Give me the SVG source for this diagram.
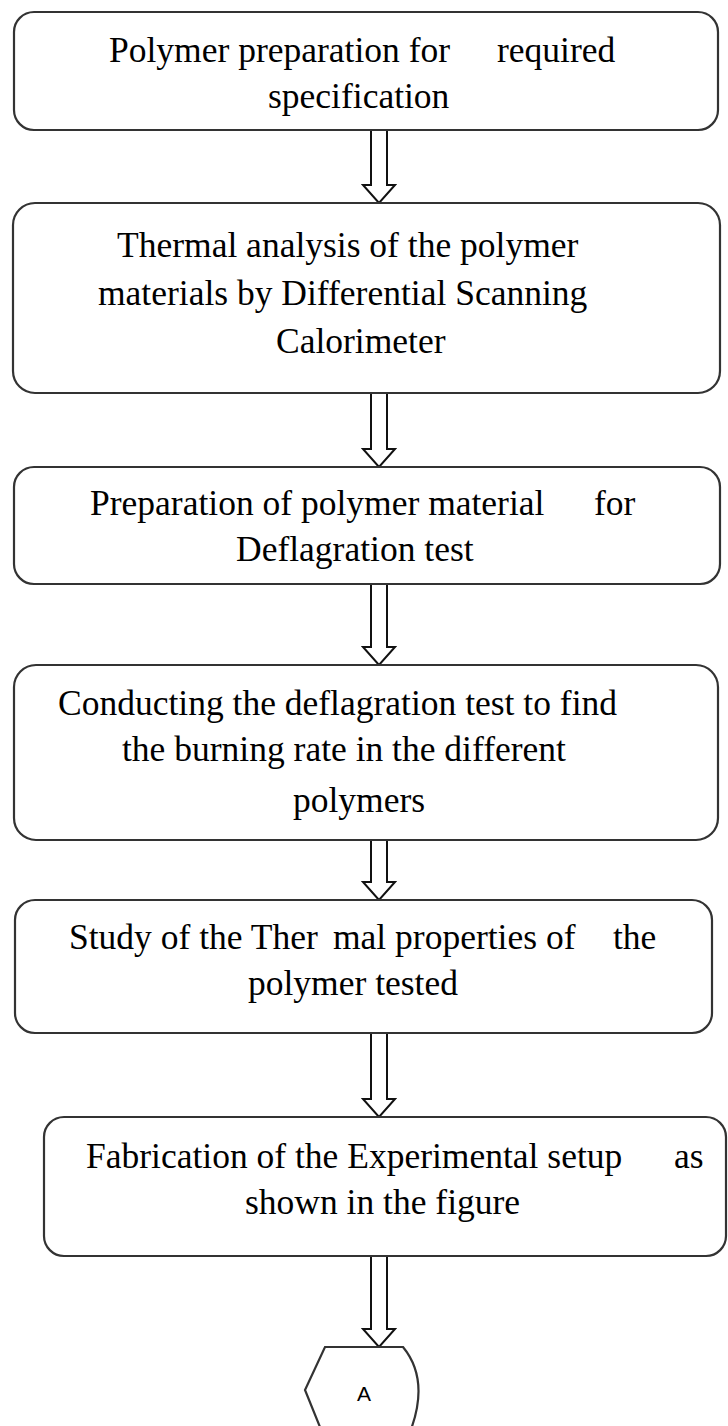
<svg xmlns="http://www.w3.org/2000/svg" width="728" height="1426" viewBox="0 0 728 1426">
<style>
.box{fill:#fff;stroke:#333;stroke-width:2.2}
.arr{fill:#fff;stroke:#111;stroke-width:2;stroke-linejoin:miter}
.t{font-family:"Liberation Serif","Times New Roman",serif;font-size:35.5px;fill:#000}
.a{font-family:"Liberation Sans",Arial,sans-serif;font-size:21px;fill:#000}
</style>
<rect width="728" height="1426" fill="#fff"/>
<g id="connectors">
<polygon class="arr" points="371,130 371,185 363,185 379,203 395,185 387,185 387,130"/>
<polygon class="arr" points="371,393 371,449 363,449 379,467 395,449 387,449 387,393"/>
<polygon class="arr" points="371,584 371,647 363,647 379,665 395,647 387,647 387,584"/>
<polygon class="arr" points="371,840 371,882 363,882 379,900 395,882 387,882 387,840"/>
<polygon class="arr" points="371,1033 371,1099 363,1099 379,1117 395,1099 387,1099 387,1033"/>
<polygon class="arr" points="371,1256 371,1329 363,1329 379,1347 395,1329 387,1329 387,1256"/>
</g>
<g id="node1">
<rect class="box" x="14" y="12" width="704" height="118" rx="20"/>
<text class="t" y="62"><tspan x="109">Polymer preparation for</tspan><tspan x="497">required</tspan></text>
<text class="t" x="268" y="108">specification</text>
</g>
<g id="node2">
<rect class="box" x="13" y="203" width="707" height="190" rx="22"/>
<text class="t" x="117" y="257">Thermal analysis of the polymer</text>
<text class="t" x="98" y="305">materials by Differential Scanning</text>
<text class="t" x="276" y="353">Calorimeter</text>
</g>
<g id="node3">
<rect class="box" x="14" y="467" width="706" height="117" rx="20"/>
<text class="t" y="515"><tspan x="90">Preparation of polymer material</tspan><tspan x="594">for</tspan></text>
<text class="t" x="236" y="561">Deflagration test</text>
</g>
<g id="node4">
<rect class="box" x="14" y="665" width="704" height="175" rx="22"/>
<text class="t" x="58" y="715">Conducting the deflagration test to find</text>
<text class="t" x="122" y="761">the burning rate in the different</text>
<text class="t" x="293" y="812">polymers</text>
</g>
<g id="node5">
<rect class="box" x="15" y="900" width="697" height="133" rx="20"/>
<text class="t" y="949"><tspan x="69">Study of the Ther</tspan><tspan x="333">mal properties of</tspan><tspan x="613">the</tspan></text>
<text class="t" x="248" y="995">polymer tested</text>
</g>
<g id="node6">
<rect class="box" x="44" y="1117" width="682" height="139" rx="20"/>
<text class="t" y="1168"><tspan x="86">Fabrication of the Experimental setup</tspan><tspan x="674">as</tspan></text>
<text class="t" x="245" y="1214">shown in the figure</text>
</g>
<g id="nodeA">
<path class="box" d="M322,1432 L305,1390 L325,1347 L403,1347 Q430,1380 410,1432"/>
<text class="a" x="364" y="1401" text-anchor="middle">A</text>
</g>
</svg>
